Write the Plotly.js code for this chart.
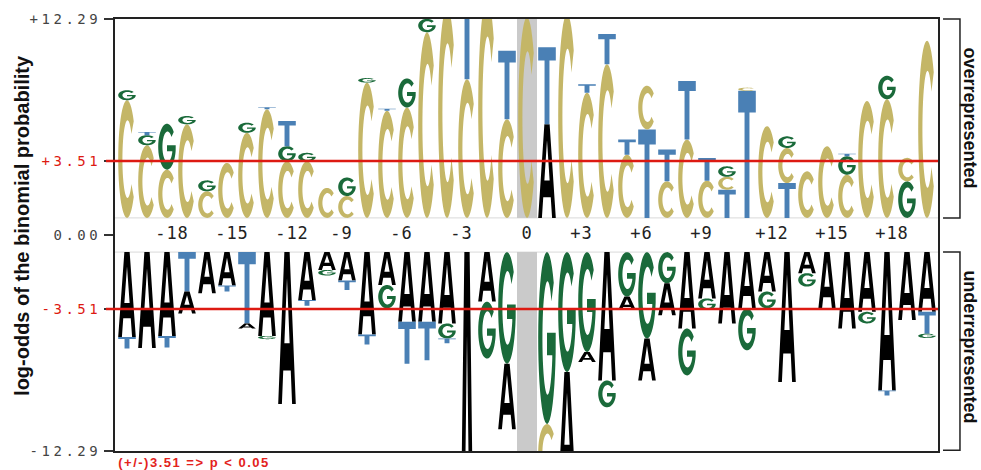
<!DOCTYPE html>
<html><head><meta charset="utf-8">
<script src="https://cdn.plot.ly/plotly-3.0.1.min.js"></script>
<style>
html,body{margin:0;padding:0;background:#fff;}
#chart{width:981px;height:470px;}
.ytick text{letter-spacing:3.5px;}
.textpoint text{letter-spacing:1px;}
.annotation[data-index="3"] text{letter-spacing:1.5px;}
</style></head><body><div id="chart"></div>
<script>
// ---- data ----
const positions = [-20,-19,-18,-17,-16,-15,-14,-13,-12,-11,-10,-9,-8,-7,-6,-5,-4,-3,-2,-1,0,1,2,3,4,5,6,7,8,9,10,11,12,13,14,15,16,17,18,19,20];
const overLetters = ['CG','CGT','CG','CG','CG','C','CG','CT','CGT','CG','C','CG','CG','CT','CG','CG','C','CT','C','CT','C','AT','C','CT','CT','CT','TC','CT','CT','CT','TCG','TC','C','TCG','C','C','CGT','C','CG','GC','C'];
const overHeights = [[7.27,0.62],[4.49,0.62,0.2],[2.98,2.84],[5.78,0.52],[1.64,0.68],[3.40],[5.26,0.62],[6.71,0.12],[3.50,0.93,1.55],[3.50,0.52],[1.85],[1.35,1.15],[8.36,0.28],[6.62,0.12],[6.82,1.8],[11.47,0.83],[13.0],[8.57,4.6],[13.5],[6.09,4.24],[12.4],[5.78,4.76],[12.6],[7.74,0.52],[9.5,1.86],[3.91,0.93],[5.47,2.7],[2.26,1.97],[4.84,3.62],[2.3,1.4],[1.74,0.8,0.65],[7.85,0.2],[5.67],[2.15,2.17,0.72],[2.88],[4.43],[2.67,1.14,0.15],[7.23],[7.33,1.45],[2.26,1.45],[10.95]];
const underLetters = ['AT','A','AT','TA','A','AT','TA','AG','A','AT','AG','AT','AT','AG','AT','AT','AGT','A','AG','GA','','GC','GA','GA','AG','GA','GA','GA','AG','AG','A','AG','AG','A','AG','A','A','AG','AT','A','ATG'];
const underHeights = [[5.24,0.72],[5.92],[5.18,0.72],[2.44,1.35],[2.55],[2.07,0.37],[4.41,0.31],[5.18,0.2],[9.38],[2.96,0.35],[1.1,0.35],[1.76,0.58],[5.09,0.62],[2.03,1.45],[4.31,2.59],[4.31,2.38],[4.41,0.93,0.3],[30],[3.06,3.52],[6.9,4.04],[],[10.62,3.5],[7.41,7.5],[6.17,0.62],[7.93,1.66],[2.75,0.83],[5.34,2.59],[1.93,1.97],[4.72,2.9],[2.86,0.72],[4.41],[3.48,2.59],[2.44,1.04],[8.03],[1.3,0.83],[3.58],[4.72],[3.69,0.72],[8.55,0.31],[4.2],[3.69,1.35,0.27]];
const xTickPositions = [-18,-15,-12,-9,-6,-3,0,3,6,9,12,15,18];
const xTickLabels = ['-18','-15','-12','-9','-6','-3','0','+3','+6','+9','+12','+15','+18'];
const yTickLabels = ['+12.29','+3.51','0.00','-3.51','-12.29'];
const threshold = 3.51;
const yLimit = 12.29;
const centerPosition = 0;

// ---- styling ----
const COLORS = {A:'#000000', C:'#c4b667', G:'#1a6a3a', T:'#4a80b5'};
const RED = '#dd1a12';
const GAP = 1.056;
const YMAX = yLimit + GAP;
const LW = 0.88;

function arc(cx,cy,rx,ry,a0,a1,n){
  const pts=[];
  for(let k=0;k<=n;k++){
    const a=(a0+(a1-a0)*k/n)*Math.PI/180;
    pts.push([cx+rx*Math.cos(a), cy+ry*Math.sin(a)]);
  }
  return pts;
}
const GLYPHS = {
  A: [[[0,0],[0.35,1],[0.65,1],[1,0],[0.79,0],[0.713,0.22],[0.287,0.22],[0.21,0]],
      [[0.35,0.40],[0.5,0.83],[0.65,0.40]]],
  T: [[[0,1],[1,1],[1,0.83],[0.64,0.83],[0.64,0],[0.36,0],[0.36,0.83],[0,0.83]]],
  C: [arc(0.5,0.5,0.5,0.5,40,320,40).concat(arc(0.53,0.5,0.29,0.33,320,40,40))],
  G: [arc(0.5,0.5,0.5,0.5,40,350,40).concat([[0.995,0.53],[0.5,0.53],[0.5,0.40],[0.80,0.40]], arc(0.53,0.5,0.29,0.33,338.6,40,40))]
};
function glyphPath(letter, xc, y0, y1){
  const x0 = xc - LW/2;
  return GLYPHS[letter].map(poly => 'M' + poly.map(([u,v]) =>
    (x0+u*LW).toFixed(4)+','+(y0+v*(y1-y0)).toFixed(4)).join('L') + 'Z').join(' ');
}
const py = v => (v + YMAX)/(2*YMAX);

const shapes = [];
// highlighted centre column
shapes.push({type:'rect', xref:'x', yref:'y', x0:centerPosition-0.5, x1:centerPosition+0.5, y0:GAP, y1:YMAX, fillcolor:'#cacaca', line:{width:0}, layer:'below'});
shapes.push({type:'rect', xref:'x', yref:'y', x0:centerPosition-0.5, x1:centerPosition+0.5, y0:-YMAX, y1:-GAP, fillcolor:'#cacaca', line:{width:0}, layer:'below'});
// baselines
[GAP,-GAP].forEach(b => shapes.push({type:'line', xref:'paper', yref:'y', x0:0, x1:1, y0:b, y1:b, line:{color:'#d9d9d9', width:1}, layer:'below'}));

positions.forEach((p,i) => {
  let cum = 0;
  overLetters[i].split('').forEach((L,j) => {
    const h = overHeights[i][j];
    shapes.push({type:'path', xref:'x', yref:'y', path:glyphPath(L, p, GAP+cum, GAP+cum+h), fillcolor:COLORS[L], fillrule:'evenodd', line:{width:0}, layer:'above'});
    cum += h;
  });
  cum = 0;
  underLetters[i].split('').forEach((L,j) => {
    const h = underHeights[i][j];
    shapes.push({type:'path', xref:'x', yref:'y', path:glyphPath(L, p, -GAP-cum-h, -GAP-cum), fillcolor:COLORS[L], fillrule:'evenodd', line:{width:0}, layer:'above'});
    cum += h;
  });
});
// significance lines
[threshold+GAP, -(threshold+GAP)].forEach(v => shapes.push({type:'line', xref:'paper', yref:'y', x0:-0.011, x1:1, y0:v, y1:v, line:{color:RED, width:2.5}, layer:'above'}));
// brackets
const bx0 = 1.0061, bx1 = 1.0267;
shapes.push({type:'path', xref:'paper', yref:'paper', path:`M${bx0},1 L${bx1},1 L${bx1},${py(GAP)} L${bx0},${py(GAP)}`, line:{color:'#222', width:1.5}});
shapes.push({type:'path', xref:'paper', yref:'paper', path:`M${bx0},${py(-GAP)} L${bx1},${py(-GAP)} L${bx1},0.002 L${bx0},0.002`, line:{color:'#222', width:1.5}});

const labelShift = s => s.length === 3 ? 0.25 : (s.length === 2 ? -0.28 : 0);
const traces = [{
  type:'scatter', mode:'text',
  x: xTickPositions.map((p,i) => p + labelShift(xTickLabels[i])),
  y: xTickPositions.map(() => 0),
  text: xTickLabels,
  textposition:'middle center',
  textfont:{family:'DejaVu Sans Mono', size:17, color:'#222'},
  hoverinfo:'skip', cliponaxis:false, showlegend:false
}];

const ticktext = yTickLabels.map((t,i) => (i===1||i===3) ? `<span style="color:${RED}">${t}</span>` : t);

const layout = {
  width:981, height:470,
  margin:{l:115, r:43, t:19, b:19},
  paper_bgcolor:'#fff', plot_bgcolor:'#fff',
  showlegend:false,
  xaxis:{range:[-20.6,20.55], showgrid:false, zeroline:false, showticklabels:false, ticks:'',
         showline:true, mirror:true, linecolor:'#222', linewidth:2, fixedrange:true},
  yaxis:{range:[-YMAX,YMAX], tickmode:'array',
         tickvals:[YMAX, threshold+GAP, 0, -(threshold+GAP), -YMAX], ticktext:ticktext,
         ticks:'outside', ticklen:9, tickwidth:1.5, tickcolor:'#333',
         tickfont:{family:'DejaVu Sans Mono', size:14, color:'#444'},
         showgrid:false, zeroline:false, showline:true, mirror:true, linecolor:'#222', linewidth:2, fixedrange:true},
  shapes:shapes,
  annotations:[
    {text:'log-odds of the binomial probability', xref:'paper', yref:'paper', x:-0.1130, y:0.521, xanchor:'center', yanchor:'middle', textangle:-90, showarrow:false,
     font:{family:'Liberation Sans', size:20, weight:700, color:'#111'}},
    {text:'overrepresented', xref:'paper', yref:'paper', x:1.0395, y:0.771, xanchor:'center', yanchor:'middle', textangle:90, showarrow:false,
     font:{family:'Liberation Sans', size:18, weight:700, color:'#111'}},
    {text:'underrepresented', xref:'paper', yref:'paper', x:1.0395, y:0.241, xanchor:'center', yanchor:'middle', textangle:90, showarrow:false,
     font:{family:'Liberation Sans', size:18, weight:700, color:'#111'}},
    {text:'(+/-)3.51 =&gt; p &lt; 0.05', xref:'paper', yref:'paper', x:0.096, xanchor:'center', y:-0.0255, yanchor:'middle', showarrow:false,
     font:{family:'Liberation Sans', size:13, weight:700, color:'#e3221c'}}
  ]
};
Plotly.newPlot('chart', traces, layout, {displayModeBar:false, staticPlot:true});
</script></body></html>
